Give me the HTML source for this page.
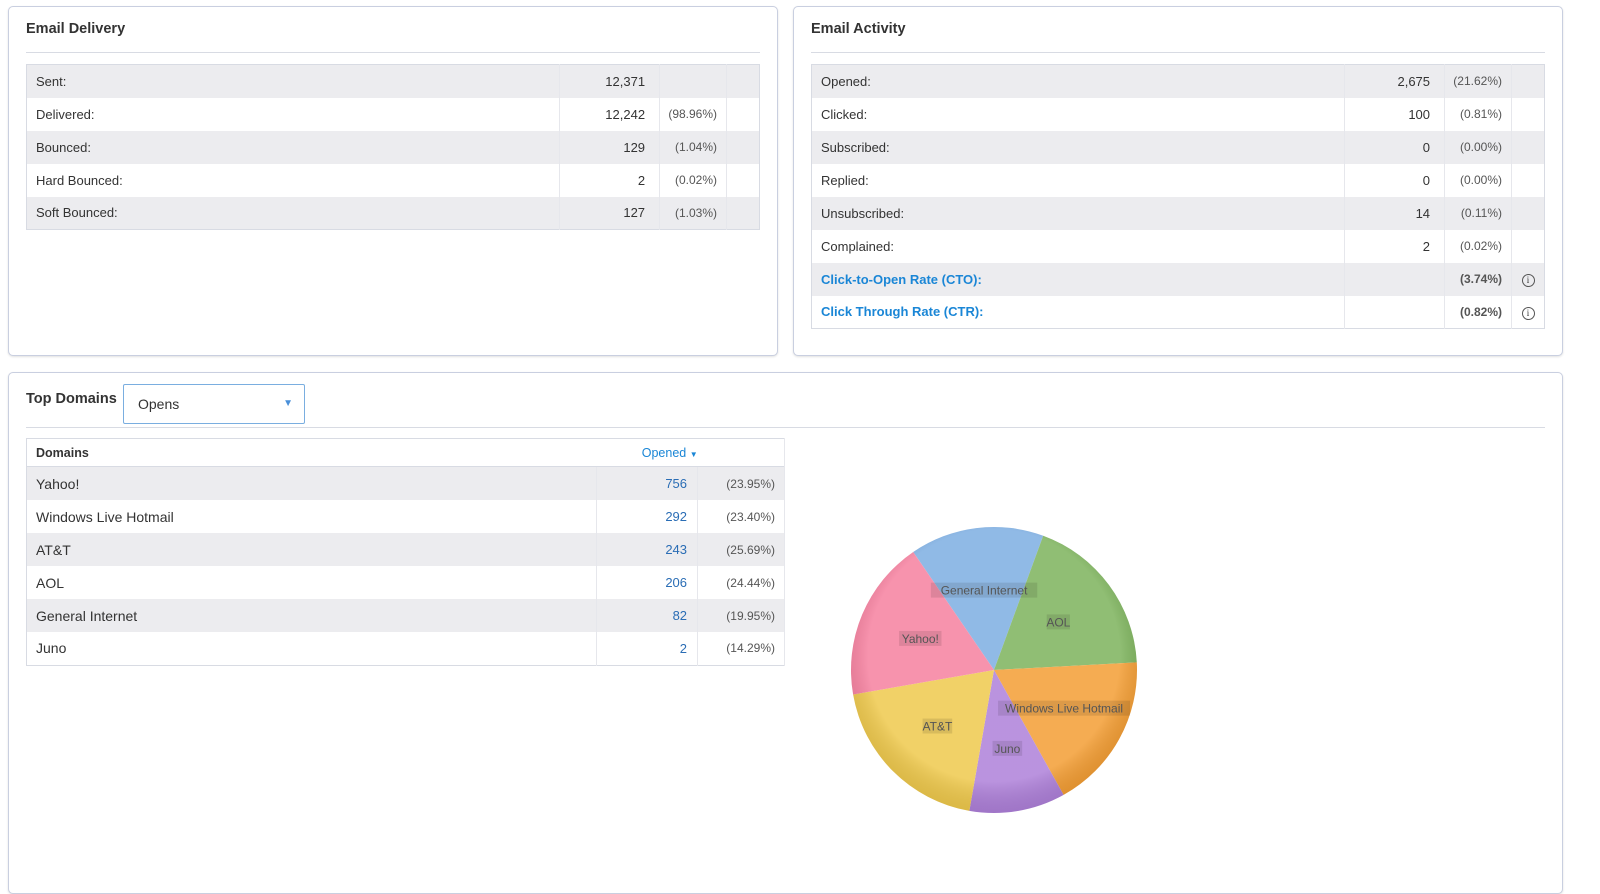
<!DOCTYPE html>
<html><head><meta charset="utf-8">
<style>
body{margin:0;width:1600px;height:870px;background:#fff;font-family:"Liberation Sans",Arial,sans-serif;color:#333;position:relative;overflow:hidden}
.panel{position:absolute;border:1px solid #c9cfe0;border-radius:5px;background:#fff;box-shadow:0 1px 2px rgba(0,0,0,.12)}
.title{position:absolute;font-size:14.5px;font-weight:bold;color:#333}
.rule{position:absolute;height:1px;background:#d8dbe3}
table{position:absolute;border-collapse:collapse;font-size:13px;border:1px solid #d8dbe3}
tr{height:33px}
td{padding:0;border-right:1px solid #e6e7ec}
tr:nth-child(odd) td{background:#ececef}
td.l{padding-left:9px}
td.n{text-align:right;padding-right:14px}
td.p{text-align:right;padding-right:9px;font-size:12px;color:#555}
td.i{text-align:center;border-right:none}
.info{display:inline-block;width:11px;height:11px;border:1px solid #555;border-radius:50%;font-size:9px;line-height:11px;text-align:center;font-family:"Liberation Serif",serif}
a{color:#1a86d6;font-weight:bold;text-decoration:none}
.dom td{font-size:14px}
.dom td.n{color:#2a6db5;font-size:13px;padding-right:10px}
.dom td.p{font-size:12px;color:#555}
</style></head><body>

<div class="panel" style="left:8px;top:6px;width:768px;height:348px"></div>
<div class="title" style="left:26px;top:21px">Email Delivery</div>
<div class="rule" style="left:26px;top:52px;width:734px"></div>
<table style="left:26px;top:64px;width:734px">
<colgroup><col style="width:534px"><col style="width:100px"><col style="width:67px"><col style="width:33px"></colgroup>
<tr><td class="l">Sent:</td><td class="n">12,371</td><td class="p"></td><td class="i"></td></tr>
<tr><td class="l">Delivered:</td><td class="n">12,242</td><td class="p">(98.96%)</td><td class="i"></td></tr>
<tr><td class="l">Bounced:</td><td class="n">129</td><td class="p">(1.04%)</td><td class="i"></td></tr>
<tr><td class="l">Hard Bounced:</td><td class="n">2</td><td class="p">(0.02%)</td><td class="i"></td></tr>
<tr><td class="l">Soft Bounced:</td><td class="n">127</td><td class="p">(1.03%)</td><td class="i"></td></tr>
</table>

<div class="panel" style="left:793px;top:6px;width:768px;height:348px"></div>
<div class="title" style="left:811px;top:21px">Email Activity</div>
<div class="rule" style="left:811px;top:52px;width:734px"></div>
<table style="left:811px;top:64px;width:734px">
<colgroup><col style="width:534px"><col style="width:100px"><col style="width:67px"><col style="width:33px"></colgroup>
<tr><td class="l">Opened:</td><td class="n">2,675</td><td class="p">(21.62%)</td><td class="i"></td></tr>
<tr><td class="l">Clicked:</td><td class="n">100</td><td class="p">(0.81%)</td><td class="i"></td></tr>
<tr><td class="l">Subscribed:</td><td class="n">0</td><td class="p">(0.00%)</td><td class="i"></td></tr>
<tr><td class="l">Replied:</td><td class="n">0</td><td class="p">(0.00%)</td><td class="i"></td></tr>
<tr><td class="l">Unsubscribed:</td><td class="n">14</td><td class="p">(0.11%)</td><td class="i"></td></tr>
<tr><td class="l">Complained:</td><td class="n">2</td><td class="p">(0.02%)</td><td class="i"></td></tr>
<tr><td class="l"><a>Click-to-Open Rate (CTO):</a></td><td class="n"></td><td class="p" style="font-weight:bold">(3.74%)</td><td class="i"><span class="info">i</span></td></tr>
<tr><td class="l"><a>Click Through Rate (CTR):</a></td><td class="n"></td><td class="p" style="font-weight:bold">(0.82%)</td><td class="i"><span class="info">i</span></td></tr>
</table>

<div class="panel" style="left:8px;top:372px;width:1553px;height:520px"></div>
<div class="title" style="left:26px;top:391px">Top Domains</div>
<div style="position:absolute;left:123px;top:384px;width:182px;height:40px;border:1px solid #7aaee0;border-radius:2px;box-sizing:border-box;font-size:14px;line-height:39px;padding-left:14px">Opens<span style="position:absolute;right:11px;top:-1px;color:#4a90d9;font-size:10px">&#9660;</span></div>
<div class="rule" style="left:26px;top:427px;width:1519px"></div>
<table class="dom" style="left:26px;top:438px;width:759px">
<colgroup><col style="width:571px"><col style="width:101px"><col style="width:87px"></colgroup>
<tr style="height:28px"><td class="l" style="font-size:12.5px;font-weight:bold;background:#fff;border-right:none">Domains</td><td class="n" style="background:#fff;border-right:none;font-size:12.5px;color:#1a86d6;padding-right:0">Opened <span style="font-size:8px">&#9660;</span></td><td style="background:#fff"></td></tr>
</table>
<table class="dom" id="domtable" style="left:26px;top:467px;width:759px;border-top:none">
<colgroup><col style="width:571px"><col style="width:101px"><col style="width:87px"></colgroup>
</table>

<svg id="pie" width="1600" height="870" style="position:absolute;left:0;top:0;pointer-events:none">
<defs><radialGradient id="shade" cx="50%" cy="45%" r="55%"><stop offset="80%" stop-color="#fff" stop-opacity="0.15"/><stop offset="100%" stop-color="#000" stop-opacity="0.08"/></radialGradient></defs>
</svg>

<script>
const domains=["Yahoo!","Windows Live Hotmail","AT&T","AOL","General Internet","Juno"];
const opened=[756,292,243,206,82,2];
const pcts=[23.95,23.40,25.69,24.44,19.95,14.29];
const pieOrder=["General Internet","AOL","Windows Live Hotmail","Juno","AT&T","Yahoo!"];
const pieColors={"General Internet":"#7daee2","AOL":"#7db35c","Windows Live Hotmail":"#f39d33","Juno":"#ae80d9","AT&T":"#efc94c","Yahoo!":"#f6809f"};

const tb=document.getElementById('domtable');
domains.forEach((d,i)=>{
  const tr=document.createElement('tr');
  
  
  tr.innerHTML='<td class="l">'+d.replace('&','&amp;')+'</td><td class="n">'+opened[i]+'</td><td class="p">('+pcts[i].toFixed(2)+'%)</td>';
  for(const c of tr.children)c.style.background=(i%2===1)?'#fff':'#ececef';
  tb.appendChild(tr);
});

const svg=document.getElementById('pie');
const NS='http://www.w3.org/2000/svg';
const cx=994,cy=670,R=143,startDeg=-34.4;
const total=pieOrder.reduce((s,n)=>s+pcts[domains.indexOf(n)],0);
let a=startDeg;
const labels=[];
pieOrder.forEach(n=>{
  const v=pcts[domains.indexOf(n)];
  const sweep=v/total*360;
  const a0=(a-90)*Math.PI/180,a1=(a+sweep-90)*Math.PI/180;
  const p=document.createElementNS(NS,'path');
  p.setAttribute('d',`M${cx},${cy} L${cx+R*Math.cos(a0)},${cy+R*Math.sin(a0)} A${R},${R} 0 ${sweep>180?1:0} 1 ${cx+R*Math.cos(a1)},${cy+R*Math.sin(a1)} Z`);
  p.setAttribute('fill',pieColors[n]);
  
  
  svg.appendChild(p);
  const am=(a+sweep/2-90)*Math.PI/180;
  labels.push([n,cx+80*Math.cos(am),cy+80*Math.sin(am)]);
  a+=sweep;
});
const sh=document.createElementNS(NS,'circle');
sh.setAttribute('cx',cx);sh.setAttribute('cy',cy);sh.setAttribute('r',R);sh.setAttribute('fill','url(#shade)');


svg.appendChild(sh);
labels.forEach(([n,x,y])=>{
  const w=n.length*6.4+4;
  const r=document.createElementNS(NS,'rect');
  r.setAttribute('x',x-w/2);r.setAttribute('y',y-8);r.setAttribute('width',w);r.setAttribute('height',15);
  r.setAttribute('fill','rgba(0,0,0,0.1)');
  
  
  svg.appendChild(r);
  const t=document.createElementNS(NS,'text');
  t.setAttribute('x',x);t.setAttribute('y',y+4);t.setAttribute('text-anchor','middle');
  t.setAttribute('font-size','12');t.setAttribute('fill','#555');t.setAttribute('font-family','Liberation Sans, sans-serif');
  t.textContent=n;
  
  
  svg.appendChild(t);
});
</script>
</body></html>
